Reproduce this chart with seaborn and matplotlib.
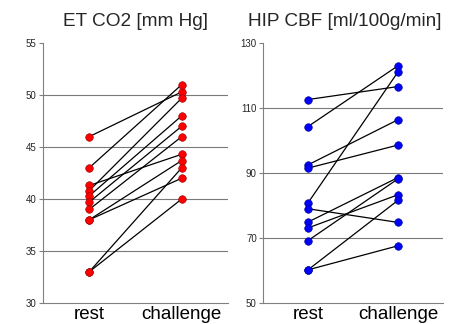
import matplotlib
matplotlib.use("Agg")
import matplotlib.pyplot as plt
from matplotlib.ticker import FixedLocator
import seaborn as sns
import pandas as pd

conditions = ["rest", "challenge"]

co2_rest      = [46.0, 43.0, 41.3, 40.8, 40.3, 39.7, 39.0, 38.0, 38.0, 33.0, 33.0]
co2_challenge = [50.3, 51.0, 44.3, 49.7, 48.0, 47.0, 46.0, 43.7, 42.0, 43.0, 40.0]

cbf_rest      = [112.6, 104.3, 92.5, 91.5, 80.8, 79.0, 74.9, 73.1, 69.2, 60.2, 60.2]
cbf_challenge = [116.6, 123.0, 106.4, 98.6, 121.1, 74.8, 88.6, 83.3, 88.2, 81.6, 67.6]

co2_title = "ET CO2 [mm Hg]"
cbf_title = "HIP CBF [ml/100g/min]"
co2_yticks = [30, 35, 40, 45, 50, 55]
cbf_yticks = [50, 70, 90, 110, 130]


def long_df(rest, chal):
    rows = []
    for i, (r, c) in enumerate(zip(rest, chal)):
        rows.append({"subject": i, "cond": conditions[0], "value": r})
        rows.append({"subject": i, "cond": conditions[1], "value": c})
    return pd.DataFrame(rows)


sns.set_style("white")
plt.rcParams["font.family"] = ["Liberation Sans", "DejaVu Sans"]

fig = plt.figure(figsize=(4.58, 3.24), dpi=100)
ax1 = fig.add_axes([43 / 458, 21 / 324, 185 / 458, 260 / 324])
ax2 = fig.add_axes([263 / 458, 21 / 324, 180 / 458, 260 / 324])

panels = [
    (ax1, co2_rest, co2_challenge, "#ff0000", "#8a0000", co2_title, co2_yticks, 0.5),
    (ax2, cbf_rest, cbf_challenge, "#0000ff", "#00008a", cbf_title, cbf_yticks, 0.456),
]

for ax, rest, chal, col, ecol, title, yt, tx in panels:
    df = long_df(rest, chal)
    sns.lineplot(data=df, x="cond", y="value", units="subject", estimator=None,
                 sort=False, color="black", linewidth=0.9, ax=ax, legend=False)
    sns.scatterplot(data=df, x="cond", y="value", color=col, s=30,
                    edgecolor=ecol, linewidth=0.4, ax=ax, zorder=5, legend=False)
    ax.set_xlim(-0.5, 1.5)
    ax.set_ylim(yt[0], yt[-1])
    ax.set_yticks(yt)
    ax.set_xticks([0, 1])
    ax.set_xticklabels(conditions)
    ax.xaxis.set_minor_locator(FixedLocator([-0.5, 0.5, 1.5]))
    ax.tick_params(axis="x", which="major", length=0, pad=2, labelsize=13.5, colors="black")
    ax.tick_params(axis="x", which="minor", length=3, width=0.8, color="#808080", direction="out")
    ax.tick_params(axis="y", which="major", length=3, width=0.8, color="#808080",
                   direction="out", labelsize=7, pad=1.5, left=True)
    ax.set_xlabel("")
    ax.set_ylabel("")
    ax.yaxis.grid(True, color="#7a7a7a", linewidth=0.8)
    gl = ax.get_ygridlines()
    gl[0].set_visible(False)
    gl[-1].set_visible(False)
    for s in ["top", "right"]:
        ax.spines[s].set_visible(False)
    for s in ["left", "bottom"]:
        ax.spines[s].set_color("#808080")
        ax.spines[s].set_linewidth(0.8)
    ax.set_title(title, fontsize=13.7, pad=12, x=tx)

fig.savefig("out.png", dpi=100, facecolor="white")
